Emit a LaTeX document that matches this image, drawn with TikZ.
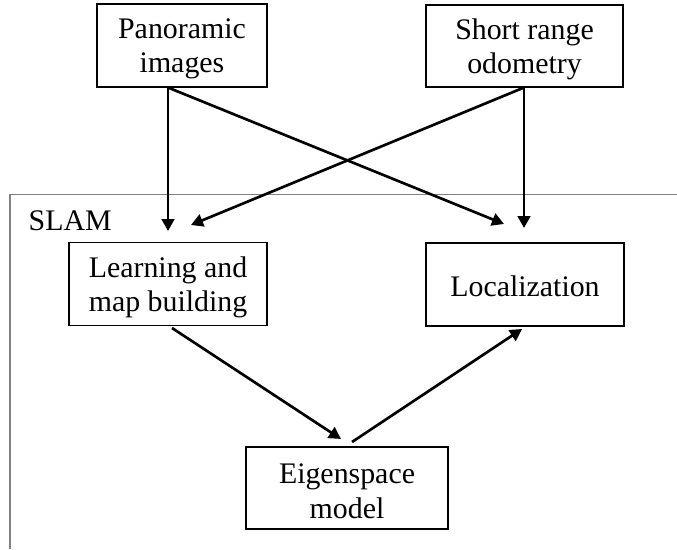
\documentclass[tikz,border=0pt]{standalone}
\usepackage{fontspec}
\setmainfont{Liberation Serif}
\usetikzlibrary{arrows.meta}
\begin{document}
\begin{tikzpicture}[x=0.75pt,y=-0.75pt,
  box/.style={draw=black,line width=0.8pt,inner sep=0pt},
  txt/.style={inner sep=0pt,align=center,font=\fontsize{22.4}{26}\selectfont},
  arr/.style={line width=2pt,-{Triangle[length=9pt,width=9.5pt]}},
  frame/.style={draw=gray,line width=1.1pt}]
\useasboundingbox (0,0) rectangle (677,549);
\fill[white] (0,0) rectangle (677,549);
% SLAM frame
\draw[frame] (10,549) -- (10,194.5) -- (677,194.5);
\node[anchor=west,font=\fontsize{22.4}{26}\selectfont] (slam) at (24,221) {SLAM};
% boxes
\node[box,minimum width=170*0.75pt,minimum height=83*0.75pt] (pan) at (182,45.5) {};
\node[box,minimum width=197*0.75pt,minimum height=82*0.75pt] (odo) at (524.5,46) {};
\node[box,minimum width=198*0.75pt,minimum height=83*0.75pt] (learn) at (168,284) {};
\node[box,minimum width=198*0.75pt,minimum height=83*0.75pt] (loc) at (525,284.5) {};
\node[box,minimum width=202*0.75pt,minimum height=82*0.75pt] (eig) at (347,488) {};
% texts
\node[txt] (pant) at ([yshift=-2.5pt]pan.center) {Panoramic\\images};
\node[txt] (odot) at ([yshift=-2.5pt]odo.center) {Short range\\odometry};
\node[txt] (learnt) at ([yshift=-2.5pt]learn.center) {Learning and\\map building};
\node[txt] (loct) at ([yshift=-1.5pt]loc.center) {Localization};
\node[txt] (eigt) at ([yshift=-2.5pt]eig.center) {Eigenspace\\model};
% connector endpoints
\coordinate (pa) at (pan.south -| 168,0);
\coordinate (oa) at (odo.south -| 524,0);
\coordinate (lt) at (168,231);
\coordinate (lt2) at (191,225);
\coordinate (rt) at (524,228);
\coordinate (rt2) at (504,224);
\coordinate (lb) at (172,328);
\coordinate (et) at (341,439);
\coordinate (es) at (352,442);
\coordinate (rb) at (522,329);
% connectors
\draw[arr] (pa) -- (lt);
\draw[arr] (pa) -- (rt2);
\draw[arr] (oa) -- (rt);
\draw[arr] (oa) -- (lt2);
\draw[arr] (lb) -- (et);
\draw[arr] (es) -- (rb);
\end{tikzpicture}
\end{document}
